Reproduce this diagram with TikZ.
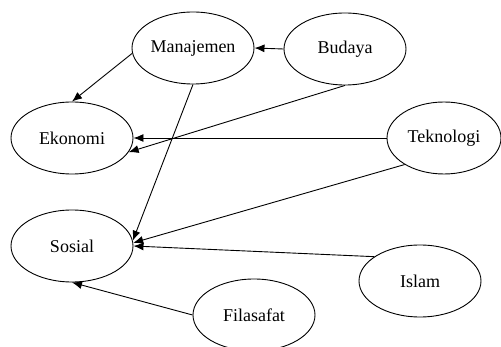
\documentclass[tikz,border=0pt]{standalone}
\usepackage{fontspec}
\setmainfont{Liberation Serif}
\usepackage{tikz}
\usetikzlibrary{shapes.geometric,arrows.meta}
\tikzset{konsep/.style={ellipse,draw,line width=0.9pt,minimum width=122pt,minimum height=72pt,inner sep=0pt,font=\fontsize{18}{20}\selectfont}}
\tikzset{panah/.style={-{Latex[length=10pt,width=8pt]},line width=0.9pt}}

\begin{document}
\begin{tikzpicture}[x=1pt,y=-1pt]
  \useasboundingbox (0,0) rectangle (501,347);
  % Variabel
  \node[konsep] (manajemen) at (193,48) {Manajemen};
  \node[konsep] (budaya) at (345,49) {Budaya};
  \node[konsep] (ekonomi) at (72,138) {Ekonomi};
  \node[konsep,minimum width=114pt] (teknologi) at (444,138) {Teknologi};
  \node[konsep] (sosial) at (72,246) {Sosial};
  \node[konsep] (islam) at (420,281) {Islam};
  \node[konsep] (filasafat) at (254,315) {Filasafat};

  % Hubungan antar variabel
  \draw[panah] (budaya.west) -- (manajemen.east);
  \draw[panah] (manajemen.185) -- (ekonomi.north);
  \draw[panah] (budaya.south) -- (ekonomi.-14);
  \draw[panah] (teknologi.west) -- (ekonomi.east);
  \draw[panah] (manajemen.south) -- (sosial.5);
  \draw[panah] (teknologi.214) -- (sosial.3);
  \draw[panah] (islam.152) -- (sosial.east);
  \draw[panah] (filasafat.west) -- (sosial.south);
\end{tikzpicture}
\end{document}
